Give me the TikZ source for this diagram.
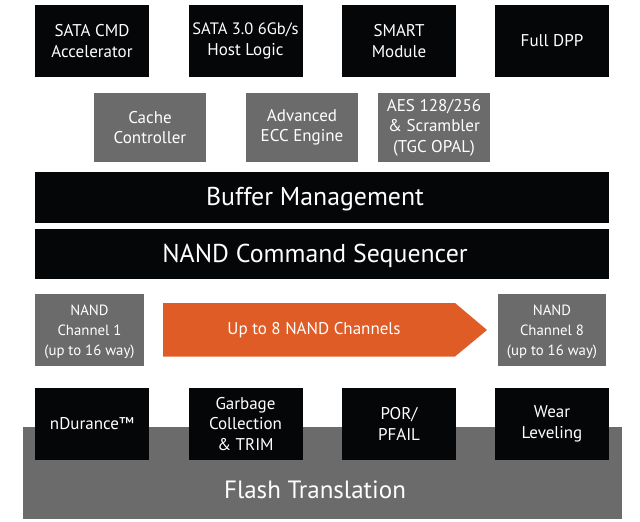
\documentclass[tikz,border=0pt]{standalone}
\usepackage{fontspec}
\setmainfont{PT Sans}
\definecolor{boxblack}{HTML}{050607}
\definecolor{boxgray}{HTML}{6B6B6B}
\definecolor{arroworange}{HTML}{E05C26}
\tikzset{
  blk/.style={fill=boxblack, text=white, minimum width=114pt, minimum height=72pt, inner sep=0pt, align=center, font=\fontsize{17}{20.5}\selectfont},
  gry/.style={fill=boxgray, text=white, minimum width=112pt, minimum height=69pt, inner sep=0pt, align=center, font=\fontsize{17}{20.5}\selectfont},
  bar/.style={fill=boxblack, minimum width=574pt, inner sep=0pt},
  bartext/.style={text=white, inner sep=0pt, font=\fontsize{25.8}{30}\selectfont},
  chan/.style={fill=boxgray, minimum width=109pt, minimum height=72pt, inner sep=0pt},
  chantext/.style={text=white, inner sep=0pt, align=center, font=\fontsize{14.8}{20}\selectfont},
}
\begin{document}
\begin{tikzpicture}[x=1pt,y=-1pt]
\useasboundingbox (0,0) rectangle (640,522);
% top row
\node[blk] (sata) at (92,41) {SATA CMD\\Accelerator};
\node[blk] (host) at (245.5,41) {\fontsize{16.5}{20.5}\selectfont SATA 3.0 6Gb/s\\Host Logic};
\node[blk] (smart) at (399,41) {SMART\\Module};
\node[blk] (dpp) at (552,41) {Full DPP};
% gray row
\node[gry] (cache) at (150,127.5) {Cache\\Controller};
\node[gry] (ecc) at (302,127.5) {Advanced\\ECC Engine};
\node[gry] (aes) at (434,127.5) {AES 128/256\\\& Scrambler\\(TGC OPAL)};
% bars
\node[bar, minimum height=51pt] (buf) at (322,197.5) {};
\node[bartext] (buft) at (315,199) {Buffer Management};
\node[bar, minimum height=50pt] (seq) at (322,254) {};
\node[bartext] (seqt) at (315,255.5) {NAND Command Sequencer};
% channels
\node[chan] (ch1) at (89.5,330) {};
\node[chantext] (ch1t) at (89.5,332) {NAND\\Channel 1\\(up to 16 way)};
\node[chan, minimum width=108pt] (ch8) at (552,330) {};
\node[chantext] (ch8t) at (552,332) {NAND\\Channel 8\\(up to 16 way)};
\fill[arroworange] (163,303) -- (455,303) -- (487,330) -- (455,356.5) -- (163,356.5) -- cycle;
\node[text=white, font=\fontsize{17}{20}\selectfont] (up) at (314,330) {Up to 8 NAND Channels};
% flash translation
\node[fill=boxgray, minimum width=599pt, minimum height=92pt, inner sep=0pt] (flash) at (322.5,473) {};
\node[text=white, inner sep=0pt, font=\fontsize{25}{30}\selectfont] (flt) at (315,490) {Flash Translation};
% bottom row
\node[blk] (ndur) at (92,424) {nDurance\texttrademark};
\node[blk] (gc) at (245.5,424) {Garbage\\Collection\\\& TRIM};
\node[blk] (por) at (399,424) {POR/\\PFAIL};
\node[blk] (wear) at (552,424) {Wear\\Leveling};
\end{tikzpicture}
\end{document}
